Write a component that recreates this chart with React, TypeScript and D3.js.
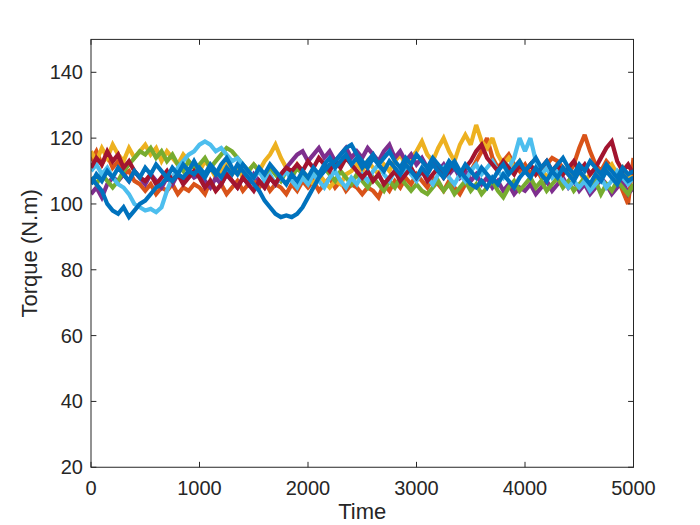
import React from "react";
import * as d3 from "d3";

const timeStep = 50;
const xTicks = [0, 1000, 2000, 3000, 4000, 5000];
const yTicks = [20, 40, 60, 80, 100, 120, 140];
const xLabel = "Time";
const yLabel = "Torque (N.m)";

const blueA = [
  108,106,104,100,98,97,99,96,98,100,
  101,103,105,106,108,107,109,108,110,109,
  111,109,112,110,108,111,109,112,110,108,
  106,104,101,99,97,96,96.5,96,97,99,
  102,105,108,110,112,113,115,117,118,115,
  113,111,114,112,110,113,111,109,112,110,
  108,111,109,112,110,108,111,113,110,108,
  106,105,107,105,108,106,109,107,105,108,
  110,108,111,109,107,110,108,111,109,107,
  110,108,106,109,107,110,108,106,109,107,108,
];
const orange = [
  113,116,112,115,111,113,109,110,107,106,
  104,106,103,105,104,106,103,105,104,106,
  105,103,107,104,106,103,105,107,104,106,
  108,105,107,104,106,105,103,106,104,107,
  105,107,104,106,108,105,107,104,106,105,
  103,105,104,102,106,104,107,105,108,106,
  109,107,105,108,106,104,107,105,103,106,
  110,113,116,120,114,111,113,115,112,110,
  112,109,111,108,112,114,113,111,109,112,
  117,121,116,112,110,113,111,108,104,100,114,
];
const yellow = [
  116,113,117,114,118,115,113,117,114,116,
  118,115,117,113,116,114,112,115,113,111,
  110,113,111,108,110,112,109,111,108,110,
  112,110,113,115,118,114,111,109,112,110,
  108,106,109,107,105,107,106,109,110,112,
  110,113,111,109,112,110,113,115,112,114,
  116,119,115,113,117,120,116,113,118,121,
  118,124,119,117,120,115,112,114,111,113,
  110,112,109,111,108,110,112,109,111,108,
  110,107,109,111,108,110,112,109,111,108,110,
];
const purple = [
  103,105,102,106,108,107,109,107,110,108,
  106,109,107,105,108,106,109,107,110,108,
  109,107,105,108,106,109,107,105,108,106,
  109,107,105,108,106,109,111,113,115,116,
  113,115,117,114,116,113,115,117,114,116,
  114,117,115,113,116,118,114,116,113,115,
  112,114,111,113,110,112,109,111,108,110,
  107,109,106,108,105,107,104,106,103,105,
  104,106,103,105,107,104,106,108,105,107,
  104,106,103,105,108,106,103,105,107,103,105,
];
const green = [
  108,106,109,107,105,107,110,112,114,116,
  115,117,114,116,113,115,112,110,113,111,
  112,114,111,113,115,117,116,114,112,110,
  112,110,108,111,109,107,110,108,111,109,
  107,110,108,111,109,107,110,108,106,109,
  107,105,108,106,104,107,105,108,106,104,
  106,104,103,105,107,104,106,103,105,107,
  104,106,103,105,107,104,102,105,107,104,
  106,108,105,107,104,106,108,105,107,104,
  106,108,105,107,103,106,104,107,105,103,106,
];
const lightBlue = [
  110,112,109,111,108,106,105,103,100,99,
  98,98.5,97.5,99,104,108,111,113,115,116,
  118,119,118,116,117,115,113,114,112,110,
  108,110,107,109,106,108,110,107,105,108,
  106,109,107,105,108,110,107,105,108,106,
  109,107,110,112,109,107,110,108,111,109,
  107,110,108,106,109,111,108,106,109,107,
  110,112,109,111,113,110,108,111,114,120,
  116,120,113,109,111,108,110,107,105,107,
  105,107,104,106,108,105,107,110,108,106,108,
];
const darkRed = [
  111,114,112,116,113,115,111,113,110,108,
  107,109,106,108,110,107,109,106,108,110,
  108,105,107,104,106,109,107,105,108,106,
  104,107,105,108,106,109,111,110,112,110,
  113,111,114,112,110,113,111,114,112,110,
  108,110,107,109,106,108,110,107,109,111,
  108,110,107,109,111,108,110,112,109,111,
  113,116,118,114,112,110,113,111,109,112,
  110,112,109,111,113,110,112,109,111,113,
  110,112,109,111,114,117,119,113,110,112,109,
];
const blueB = [
  106,109,107,110,108,111,109,107,110,108,
  111,109,112,110,108,111,109,112,110,113,
  110,108,111,109,112,114,111,109,112,110,
  108,111,109,112,110,108,106,109,107,110,
  108,111,109,112,114,111,113,115,112,114,
  111,113,115,112,114,116,113,111,114,112,
  115,113,111,114,112,110,113,111,109,112,
  110,108,111,109,107,110,112,109,111,113,
  110,112,114,111,113,110,112,114,111,109,
  112,110,113,111,109,112,110,108,111,109,110,
];

const series = [
  { values: orange, color: "#D95319" },
  { values: yellow, color: "#EDB120" },
  { values: purple, color: "#7E2F8E" },
  { values: green, color: "#77AC30" },
  { values: lightBlue, color: "#4DBEEE" },
  { values: darkRed, color: "#A2142F" },
  { values: blueA, color: "#0072BD" },
  { values: blueB, color: "#0072BD" },
];

export default function App() {
  const W = 700, H = 525;
  const left = 91, right = 633.5, top = 39.4, bottom = 467.25;
  const x = d3.scaleLinear().domain([0, 5000]).range([left, right]);
  const y = d3.scaleLinear().domain([20, 150]).range([bottom, top]);
  const line = d3
    .line<number>()
    .x((_, i) => x(i * timeStep))
    .y((d) => y(d));
  const tl = 5.4;
  const axisColor = "#262626";
  const font = "'Liberation Sans', Arial, Helvetica, sans-serif";
  return (
    <div style={{ position: "absolute", left: 0, top: 0, width: W, height: H, background: "#fff" }}>
      <svg width={W} height={H} style={{ display: "block" }}>
        <rect x={0} y={0} width={W} height={H} fill="#fff" />
        <defs>
          <clipPath id="plotclip">
            <rect x={left} y={top} width={right - left} height={bottom - top} />
          </clipPath>
        </defs>
        <g clipPath="url(#plotclip)">
          {series.map((s, k) => (
            <path
              key={k}
              d={line(s.values) || ""}
              fill="none"
              stroke={s.color}
              strokeWidth={4.2}
              strokeLinejoin="miter"
              strokeMiterlimit={2.5}
            />
          ))}
        </g>
        <rect x={left} y={top} width={right - left} height={bottom - top} fill="none" stroke={axisColor} strokeWidth={1} />
        {xTicks.map((t) => (
          <g key={"x" + t}>
            <line x1={x(t)} x2={x(t)} y1={bottom} y2={bottom - tl} stroke={axisColor} />
            <line x1={x(t)} x2={x(t)} y1={top} y2={top + tl} stroke={axisColor} />
            <text x={x(t)} y={495} textAnchor="middle" fontFamily={font} fontSize={20} fill={axisColor}>
              {t}
            </text>
          </g>
        ))}
        {yTicks.map((t) => (
          <g key={"y" + t}>
            <line x1={left} x2={left + tl} y1={y(t)} y2={y(t)} stroke={axisColor} />
            <line x1={right} x2={right - tl} y1={y(t)} y2={y(t)} stroke={axisColor} />
            <text x={83} y={y(t) + 7} textAnchor="end" fontFamily={font} fontSize={20} fill={axisColor}>
              {t}
            </text>
          </g>
        ))}
        <text x={(left + right) / 2} y={519} textAnchor="middle" fontFamily={font} fontSize={22} fill={axisColor}>
          {xLabel}
        </text>
        <text
          transform={`translate(37,${(top + bottom) / 2}) rotate(-90)`}
          textAnchor="middle"
          fontFamily={font}
          fontSize={22}
          fill={axisColor}
        >
          {yLabel}
        </text>
      </svg>
    </div>
  );
}
